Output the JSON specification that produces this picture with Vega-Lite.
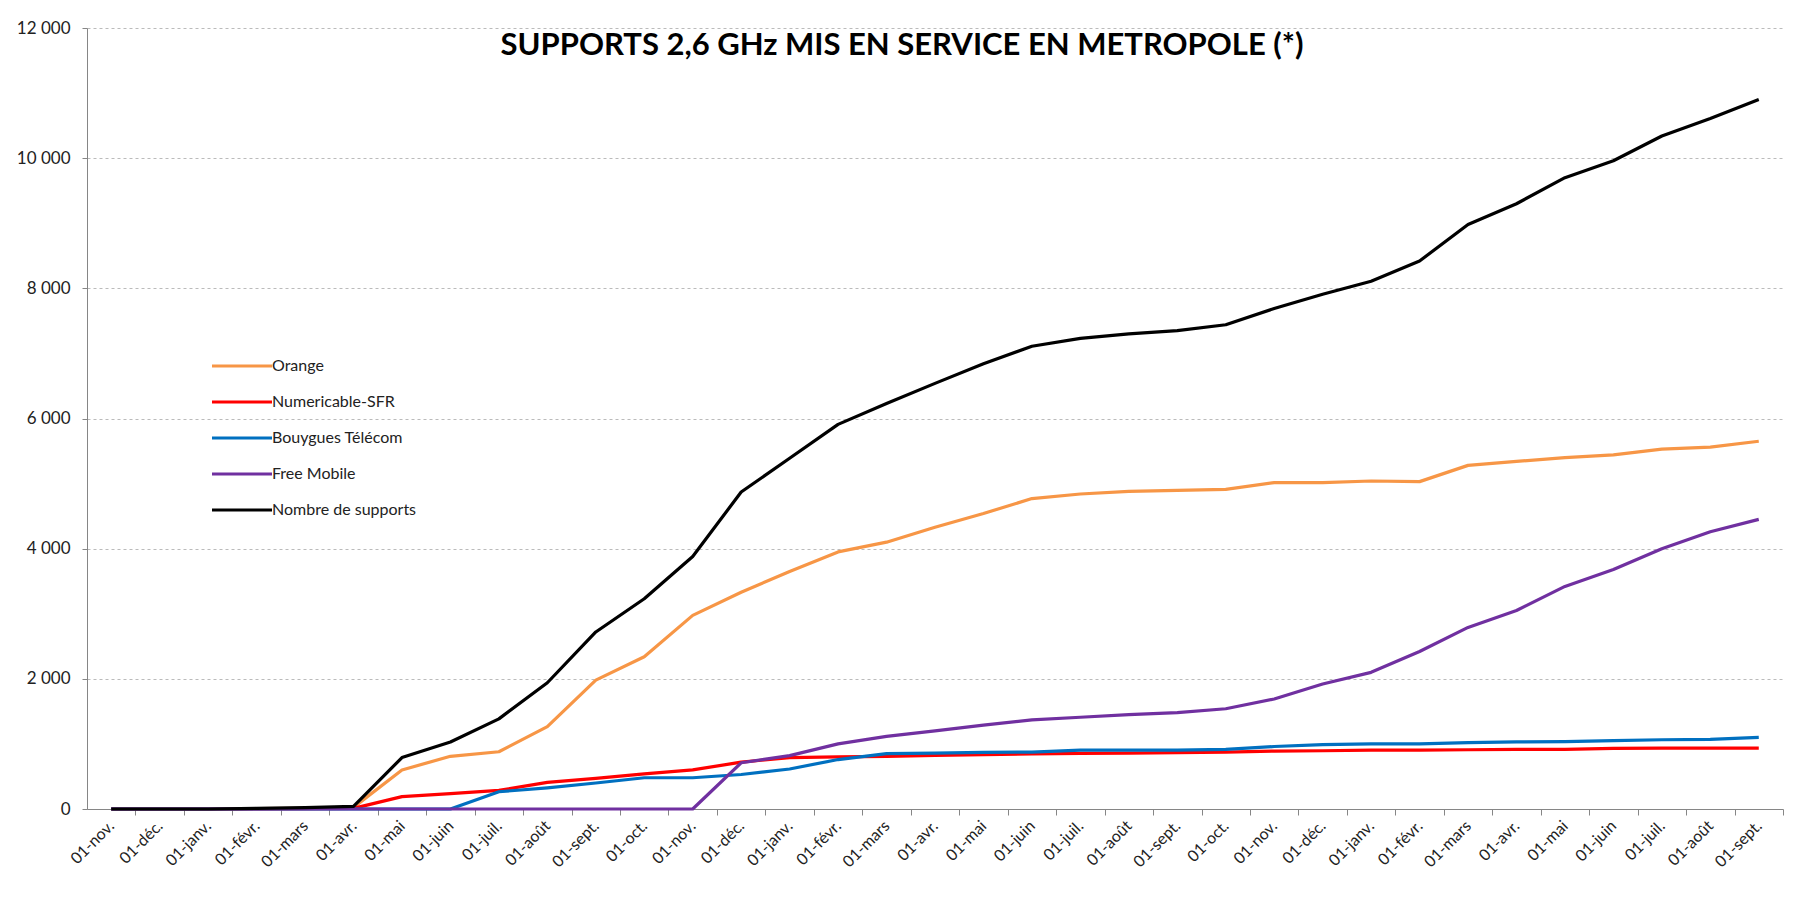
{
  "$schema": "https://vega.github.io/schema/vega-lite/v6.json",
  "autosize": "none",
  "width": 1696,
  "height": 781,
  "padding": {"left": 87, "top": 28, "right": 16, "bottom": 106},
  "background": "white",
  "title": {
    "text": "SUPPORTS 2,6 GHz MIS EN SERVICE EN METROPOLE (*)",
    "font": "Lato",
    "fontSize": 31,
    "fontWeight": "bold",
    "color": "#000000",
    "anchor": "middle",
    "dx": -33,
    "offset": -67,
    "baseline": "alphabetic"
  },
  "data": {
    "values": [
      {"m": "2012-11", "Orange": 0, "Numericable-SFR": 0, "Bouygues Télécom": 0, "Free Mobile": 0, "Nombre de supports": 0},
      {"m": "2012-12", "Orange": 0, "Numericable-SFR": 0, "Bouygues Télécom": 0, "Free Mobile": 0, "Nombre de supports": 0},
      {"m": "2013-01", "Orange": 0, "Numericable-SFR": 0, "Bouygues Télécom": 0, "Free Mobile": 0, "Nombre de supports": 0},
      {"m": "2013-02", "Orange": 5, "Numericable-SFR": 2, "Bouygues Télécom": 0, "Free Mobile": 0, "Nombre de supports": 10},
      {"m": "2013-03", "Orange": 10, "Numericable-SFR": 5, "Bouygues Télécom": 0, "Free Mobile": 0, "Nombre de supports": 20},
      {"m": "2013-04", "Orange": 25, "Numericable-SFR": 10, "Bouygues Télécom": 0, "Free Mobile": 0, "Nombre de supports": 40},
      {"m": "2013-05", "Orange": 600, "Numericable-SFR": 190, "Bouygues Télécom": 0, "Free Mobile": 0, "Nombre de supports": 790},
      {"m": "2013-06", "Orange": 810, "Numericable-SFR": 235, "Bouygues Télécom": 0, "Free Mobile": 0, "Nombre de supports": 1030},
      {"m": "2013-07", "Orange": 880, "Numericable-SFR": 285, "Bouygues Télécom": 265, "Free Mobile": 0, "Nombre de supports": 1385},
      {"m": "2013-08", "Orange": 1265, "Numericable-SFR": 410, "Bouygues Télécom": 325, "Free Mobile": 0, "Nombre de supports": 1940},
      {"m": "2013-09", "Orange": 1980, "Numericable-SFR": 470, "Bouygues Télécom": 400, "Free Mobile": 0, "Nombre de supports": 2720},
      {"m": "2013-10", "Orange": 2340, "Numericable-SFR": 540, "Bouygues Télécom": 480, "Free Mobile": 0, "Nombre de supports": 3230},
      {"m": "2013-11", "Orange": 2975, "Numericable-SFR": 600, "Bouygues Télécom": 480, "Free Mobile": 0, "Nombre de supports": 3880},
      {"m": "2013-12", "Orange": 3330, "Numericable-SFR": 720, "Bouygues Télécom": 530, "Free Mobile": 710, "Nombre de supports": 4870},
      {"m": "2014-01", "Orange": 3650, "Numericable-SFR": 790, "Bouygues Télécom": 615, "Free Mobile": 820, "Nombre de supports": 5390},
      {"m": "2014-02", "Orange": 3950, "Numericable-SFR": 800, "Bouygues Télécom": 760, "Free Mobile": 1000, "Nombre de supports": 5910},
      {"m": "2014-03", "Orange": 4100, "Numericable-SFR": 810, "Bouygues Télécom": 850, "Free Mobile": 1115, "Nombre de supports": 6230},
      {"m": "2014-04", "Orange": 4330, "Numericable-SFR": 825, "Bouygues Télécom": 860, "Free Mobile": 1200, "Nombre de supports": 6540},
      {"m": "2014-05", "Orange": 4540, "Numericable-SFR": 835, "Bouygues Télécom": 870, "Free Mobile": 1290, "Nombre de supports": 6840},
      {"m": "2014-06", "Orange": 4770, "Numericable-SFR": 845, "Bouygues Télécom": 875, "Free Mobile": 1370, "Nombre de supports": 7110},
      {"m": "2014-07", "Orange": 4840, "Numericable-SFR": 855, "Bouygues Télécom": 905, "Free Mobile": 1410, "Nombre de supports": 7230},
      {"m": "2014-08", "Orange": 4880, "Numericable-SFR": 860, "Bouygues Télécom": 905, "Free Mobile": 1450, "Nombre de supports": 7300},
      {"m": "2014-09", "Orange": 4895, "Numericable-SFR": 865, "Bouygues Télécom": 905, "Free Mobile": 1480, "Nombre de supports": 7350},
      {"m": "2014-10", "Orange": 4910, "Numericable-SFR": 875, "Bouygues Télécom": 915, "Free Mobile": 1540, "Nombre de supports": 7440},
      {"m": "2014-11", "Orange": 5015, "Numericable-SFR": 890, "Bouygues Télécom": 960, "Free Mobile": 1690, "Nombre de supports": 7690},
      {"m": "2014-12", "Orange": 5015, "Numericable-SFR": 895, "Bouygues Télécom": 990, "Free Mobile": 1920, "Nombre de supports": 7910},
      {"m": "2015-01", "Orange": 5040, "Numericable-SFR": 905, "Bouygues Télécom": 1000, "Free Mobile": 2100, "Nombre de supports": 8110},
      {"m": "2015-02", "Orange": 5030, "Numericable-SFR": 905, "Bouygues Télécom": 1000, "Free Mobile": 2420, "Nombre de supports": 8420},
      {"m": "2015-03", "Orange": 5280, "Numericable-SFR": 910, "Bouygues Télécom": 1020, "Free Mobile": 2790, "Nombre de supports": 8980},
      {"m": "2015-04", "Orange": 5340, "Numericable-SFR": 915, "Bouygues Télécom": 1030, "Free Mobile": 3050, "Nombre de supports": 9300},
      {"m": "2015-05", "Orange": 5400, "Numericable-SFR": 915, "Bouygues Télécom": 1035, "Free Mobile": 3420, "Nombre de supports": 9700},
      {"m": "2015-06", "Orange": 5440, "Numericable-SFR": 930, "Bouygues Télécom": 1050, "Free Mobile": 3680, "Nombre de supports": 9960},
      {"m": "2015-07", "Orange": 5530, "Numericable-SFR": 935, "Bouygues Télécom": 1064, "Free Mobile": 4000, "Nombre de supports": 10340},
      {"m": "2015-08", "Orange": 5560, "Numericable-SFR": 935, "Bouygues Télécom": 1070, "Free Mobile": 4260, "Nombre de supports": 10610},
      {"m": "2015-09", "Orange": 5650, "Numericable-SFR": 935, "Bouygues Télécom": 1100, "Free Mobile": 4450, "Nombre de supports": 10900}
    ]
  },
  "transform": [
    {"fold": ["Orange", "Numericable-SFR", "Bouygues Télécom", "Free Mobile", "Nombre de supports"], "as": ["s", "v"]}
  ],
  "mark": {"type": "line", "strokeWidth": 3.2, "strokeJoin": "round"},
  "encoding": {
    "x": {
      "field": "m",
      "type": "ordinal",
      "scale": {"type": "point", "padding": 0.5},
      "axis": {
        "title": null,
        "labelExpr": "'01-' + ['janv.','févr.','mars','avr.','mai','juin','juil.','août','sept.','oct.','nov.','déc.'][toNumber(slice(datum.value,5,7))-1]",
        "labelAngle": -45,
        "labelAlign": "right",
        "labelBaseline": "middle",
        "labelFont": "Lato",
        "labelFontSize": 16,
        "labelColor": "#222222",
        "labelPadding": 8,
        "labelOffset": -24.23,
        "tickSize": 6,
        "tickOffset": 24.23,
        "tickColor": "#868686",
        "domainColor": "#868686",
        "domainWidth": 1,
        "grid": false
      }
    },
    "y": {
      "field": "v",
      "type": "quantitative",
      "scale": {"domain": [0, 12000], "nice": false},
      "axis": {
        "title": null,
        "values": [0, 2000, 4000, 6000, 8000, 10000, 12000],
        "labelExpr": "replace(format(datum.value, ','), ',', ' ')",
        "labelFont": "Lato",
        "labelFontSize": 17,
        "labelColor": "#222222",
        "labelPadding": 12,
        "tickSize": 5,
        "tickColor": "#868686",
        "domainColor": "#868686",
        "grid": true,
        "gridColor": "#BBBBBB",
        "gridDash": [3, 3],
        "gridWidth": 1
      }
    },
    "color": {
      "field": "s",
      "type": "nominal",
      "scale": {
        "domain": ["Orange", "Numericable-SFR", "Bouygues Télécom", "Free Mobile", "Nombre de supports"],
        "range": ["#F79646", "#FF0000", "#0070C0", "#7030A0", "#000000"]
      },
      "legend": {
        "title": null,
        "orient": "none",
        "legendX": 146,
        "legendY": 329,
        "symbolType": "M-4,0H4",
        "symbolSize": 225,
        "symbolStrokeWidth": 3,
        "labelFont": "Lato",
        "labelFontSize": 16,
        "labelColor": "#222222",
        "labelOffset": 21,
        "rowPadding": 19,
        "padding": 0
      }
    }
  },
  "config": {
    "view": {"stroke": null}
  }
}
